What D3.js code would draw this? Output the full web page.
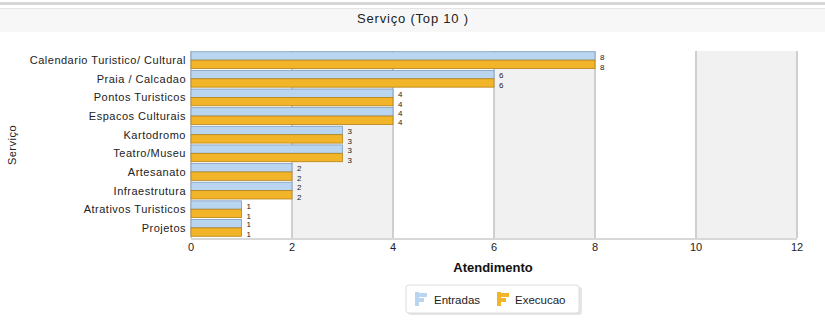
<!DOCTYPE html>
<html><head><meta charset="utf-8">
<script src="https://cdn.jsdelivr.net/npm/d3@7"></script>
<style>body{margin:0;background:#fff;font-family:"Liberation Sans",Arial,sans-serif}</style>
</head><body><svg id="c" width="825" height="326"></svg>
<script>
const categories = ["Calendario Turistico/ Cultural","Praia / Calcadao","Pontos Turisticos","Espacos Culturais","Kartodromo","Teatro/Museu","Artesanato","Infraestrutura","Atrativos Turisticos","Projetos"];
const entradas = [8,6,4,4,3,3,2,2,1,1];
const execucao = [8,6,4,4,3,3,2,2,1,1];
const xTicks = [0,2,4,6,8,10,12];
const seriesNames = ["Entradas","Execucao"];
const colors = ["#b9d5ef","#f2b52a"];
const strokes = ["#7d9cc0","#b58214"];

const svg = d3.select("#c");
// header
svg.append("rect").attr("x",0).attr("y",2).attr("width",825).attr("height",3).attr("fill","#d6d6d6");
svg.append("rect").attr("x",0).attr("y",8).attr("width",825).attr("height",24).attr("fill","#f7f7f7");
svg.append("line").attr("x1",0).attr("x2",825).attr("y1",8.5).attr("y2",8.5).attr("stroke","#e4e4e4");
svg.append("text").attr("x",413).attr("y",23).attr("text-anchor","middle").attr("font-size",13).attr("letter-spacing",0.8).attr("fill","#222").text("Serviço (Top 10 )");

const pL=191, pR=797, pT=51, pB=238;
const x = d3.scaleLinear().domain([0,12]).range([pL,pR]);
const y = d3.scaleBand().domain(categories).range([pT,pB-1]).paddingInner(0.1).paddingOuter(0.04);

// alternating bands
for(let i=0;i<xTicks.length-1;i++){
  svg.append("rect").attr("x",x(xTicks[i])).attr("y",pT).attr("width",x(xTicks[i+1])-x(xTicks[i])).attr("height",pB-pT)
    .attr("fill", i%2? "#f1f1f1":"#ffffff");
}
svg.append("g").selectAll("line").data(xTicks).join("line")
  .attr("x1",d=>x(d)).attr("x2",d=>x(d)).attr("y1",pT).attr("y2",pB)
  .attr("stroke","#cfcfcf").attr("stroke-width",2);
svg.append("line").attr("x1",pL).attr("x2",pR).attr("y1",pB+1).attr("y2",pB+1).attr("stroke","#d8d8d8").attr("stroke-width",2);

const bh = y.bandwidth()/2;
[entradas,execucao].forEach((vals,si)=>{
  svg.append("g").selectAll("rect").data(categories).join("rect")
    .attr("x",x(0)).attr("y",(d)=>y(d)+si*bh)
    .attr("width",(d,i)=>x(vals[i])-x(0)).attr("height",bh)
    .attr("fill",colors[si]).attr("stroke",strokes[si]).attr("stroke-width",0.8);
  svg.append("g").selectAll("text").data(categories).join("text")
    .attr("x",(d,i)=>x(vals[i])+5).attr("y",(d)=>y(d)+si*(bh+1.5)+bh-0.5)
    .attr("font-size",8).attr("fill","#222").text((d,i)=>vals[i]);
});

// category labels
svg.append("g").selectAll("text").data(categories).join("text")
  .attr("x",pL-5).attr("y",d=>y(d)+y.bandwidth()/2+4).attr("text-anchor","end")
  .attr("font-size",11).attr("letter-spacing",0.5).attr("fill","#222").text(d=>d);
// x ticks
svg.append("g").selectAll("text").data(xTicks).join("text")
  .attr("x",d=>x(d)).attr("y",251).attr("text-anchor","middle").attr("font-size",11).attr("fill","#222").text(d=>d);
svg.append("text").attr("x",493).attr("y",272).attr("text-anchor","middle").attr("font-size",13).attr("font-weight","bold").attr("fill","#111").text("Atendimento");
svg.append("text").attr("transform","translate(16,145) rotate(-90)").attr("text-anchor","middle").attr("font-size",11).attr("letter-spacing",0.5).attr("fill","#222").text("Serviço");

// legend
svg.append("rect").attr("x",408).attr("y",287).attr("width",174).attr("height",28).attr("rx",3).attr("fill","#999").attr("opacity",0.25);
svg.append("rect").attr("x",406).attr("y",285).attr("width",173).attr("height",28).attr("rx",3).attr("fill","#fff").attr("stroke","#ddd");
const lx=[415,497];
seriesNames.forEach((n,i)=>{
  const g=svg.append("g").attr("transform",`translate(${lx[i]},292)`);
  g.append("rect").attr("x",0).attr("y",0).attr("width",4).attr("height",14).attr("fill",colors[i]);
  g.append("rect").attr("x",0).attr("y",1).attr("width",12).attr("height",4).attr("fill",colors[i]);
  g.append("rect").attr("x",0).attr("y",6).attr("width",9).attr("height",4).attr("fill",colors[i]);
  g.append("text").attr("x",i?18:19).attr("y",12).attr("font-size",11.5).attr("fill","#222").text(n);
});
</script></body></html>
